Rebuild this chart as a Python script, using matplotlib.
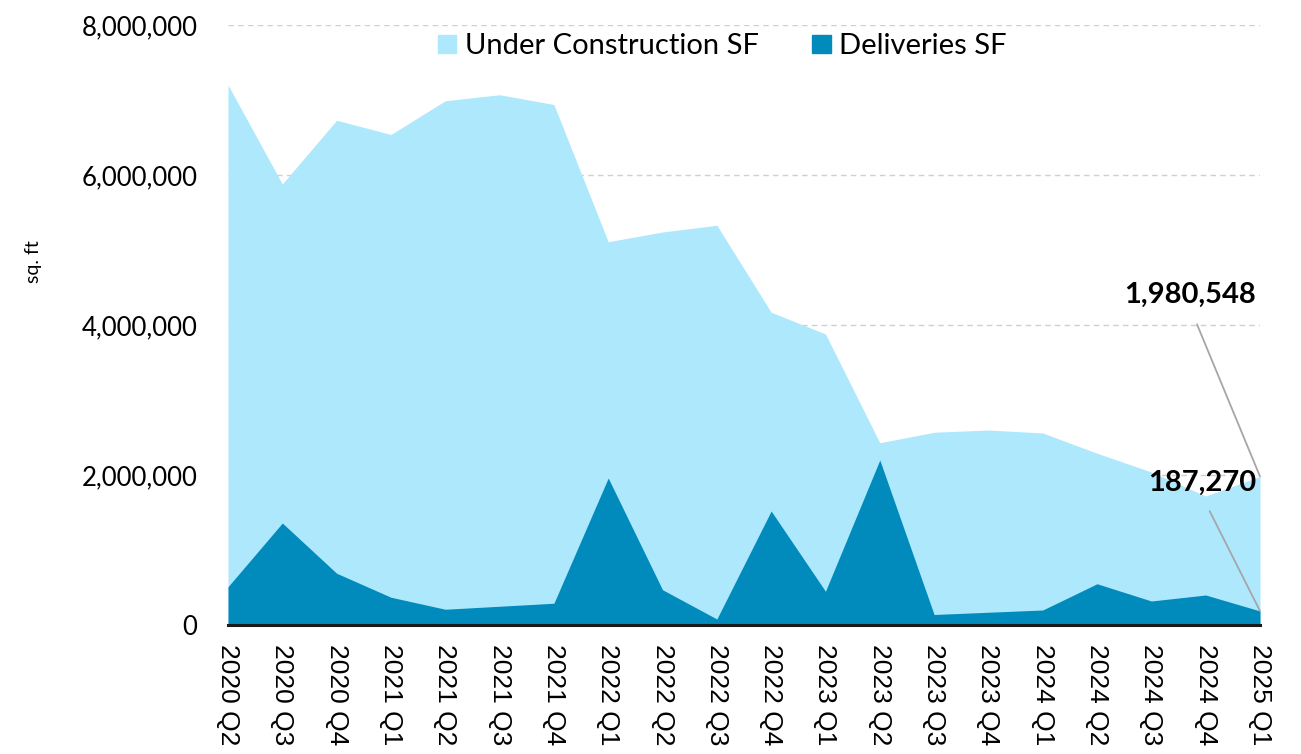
import matplotlib
matplotlib.use("Agg")
import matplotlib.pyplot as plt
from matplotlib.ticker import FuncFormatter
from matplotlib.patches import Patch

quarters = ["2020 Q2", "2020 Q3", "2020 Q4", "2021 Q1", "2021 Q2", "2021 Q3", "2021 Q4",
            "2022 Q1", "2022 Q2", "2022 Q3", "2022 Q4", "2023 Q1", "2023 Q2", "2023 Q3",
            "2023 Q4", "2024 Q1", "2024 Q2", "2024 Q3", "2024 Q4", "2025 Q1"]

under_construction = [7200000, 5880000, 6730000, 6540000, 6990000, 7070000, 6940000,
                      5110000, 5240000, 5330000, 4170000, 3880000, 2430000, 2570000,
                      2600000, 2560000, 2290000, 2040000, 1720000, 1980548]

deliveries = [510000, 1360000, 690000, 370000, 210000, 250000, 290000,
              1960000, 470000, 80000, 1520000, 450000, 2200000, 140000,
              170000, 200000, 550000, 320000, 400000, 187270]

light = "#ade8fc"
dark = "#008bbc"

fig = plt.figure(figsize=(13.01, 7.54), dpi=100)
ax = fig.add_axes([228 / 1301, 129 / 754, 1032 / 1301, 600 / 754])

x = list(range(len(quarters)))
ax.fill_between(x, 0, under_construction, color=light, linewidth=0)
ax.fill_between(x, 0, deliveries, color=dark, linewidth=0)

ax.set_xlim(0, len(quarters) - 1)
ax.set_ylim(0, 8000000)
ax.set_yticks([0, 2000000, 4000000, 6000000, 8000000])
ax.yaxis.set_major_formatter(FuncFormatter(lambda v, p: f"{int(v):,}"))
ax.grid(axis="y", color="#d0d0d0", linestyle=(0, (4, 3)), linewidth=1)
ax.set_axisbelow(True)

ax.set_xticks(x)
ax.set_xticklabels(quarters, rotation=-90, fontsize=19, family="Liberation Sans",
                   va="top", ha="center")
for lbl in ax.get_yticklabels():
    lbl.set_fontsize(18.5)
    lbl.set_family("Lato")
ax.tick_params(length=0)
ax.tick_params(axis="x", pad=14)
ax.tick_params(axis="y", pad=22)

for s in ["top", "right", "left"]:
    ax.spines[s].set_visible(False)
ax.spines["bottom"].set_color("#1a1a1a")
ax.spines["bottom"].set_linewidth(2.2)
ax.spines["bottom"].set_zorder(5)

ax.set_ylabel("sq. ft", fontsize=14, family="Lato")
ax.yaxis.set_label_coords(-0.18, 0.605)

handles = [Patch(color=light, label="Under Construction SF"),
           Patch(color=dark, label="Deliveries SF")]
ax.legend(handles=handles, loc="upper center", bbox_to_anchor=(0.479, 1.03), ncol=2,
          frameon=False, prop={"family": "Lato", "size": 21}, handlelength=0.62,
          handleheight=0.62, columnspacing=1.85, handletextpad=0.28)

last = len(quarters) - 1
ax.annotate(f"{under_construction[-1]:,}", xy=(last, under_construction[-1]),
            xytext=(-70, 169), textcoords="offset pixels", ha="center", va="bottom",
            fontsize=21, fontweight="bold", family="Lato",
            arrowprops=dict(arrowstyle="-", color="#a6a6a6", lw=1.3, relpos=(0.5, 0),
                            shrinkA=11, shrinkB=0))
ax.annotate(f"{deliveries[-1]:,}", xy=(last, deliveries[-1]),
            xytext=(-58, 115), textcoords="offset pixels", ha="center", va="bottom",
            fontsize=21, fontweight="bold", family="Lato",
            arrowprops=dict(arrowstyle="-", color="#a6a6a6", lw=1.3, relpos=(0.5, 0),
                            shrinkA=10, shrinkB=0))

fig.savefig("out.png", dpi=100)
